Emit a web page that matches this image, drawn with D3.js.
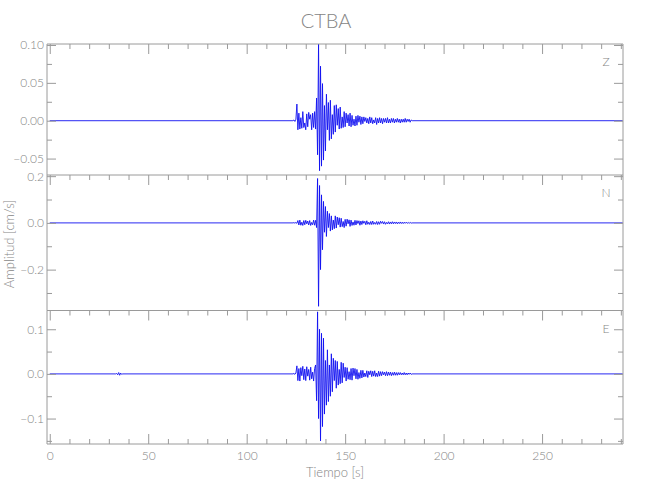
<!DOCTYPE html>
<html>
<head>
<meta charset="utf-8">
<script src="https://cdn.jsdelivr.net/npm/d3@7"></script>
<style>
  html, body { margin: 0; padding: 0; background: #ffffff; }
  svg text { font-family: "Lato", "Liberation Sans Narrow", "DejaVu Sans Condensed", sans-serif; font-weight: 300; fill: #858585; }
</style>
</head>
<body>
<svg id="chart" width="650" height="500"></svg>
<script>
// ---------------- data ----------------
const stationName = "CTBA";
const componentNames = ["Z", "N", "E"];
const xLabelText = "Tiempo [s]";
const yLabelText = "Amplitud [cm/s]";

const timeRange = [-1.4, 291.1];
const recordEnd = 291;
const xMajorTicks = [0, 50, 100, 150, 200, 250];
const xMinorTicks = [10, 20, 30, 40, 60, 70, 80, 90, 110, 120, 130, 140, 160, 170, 180, 190, 210, 220, 230, 240, 260, 270, 280, 290];

const zRange = [-0.0717, 0.1013];
const zMajorTicks = [-0.05, 0.00, 0.05, 0.10];
const zMinorTicks = [-0.025, 0.025, 0.075];
const nRange = [-0.375, 0.205];
const nMajorTicks = [-0.2, 0.0, 0.2];
const nMinorTicks = [-0.3, -0.1, 0.1];
const eRange = [-0.157, 0.142];
const eMajorTicks = [-0.1, 0.0, 0.1];
const eMinorTicks = [-0.15, -0.05, 0.05];

// event segment: samples every 0.5 s from 124 s (cm/s)
const eventStart = 124;
const sampleStep = 0.5;

const zValues = [
  0.001, -0.001, 0.002, 0.022, -0.012, 0.010, -0.011, 0.004, -0.010, 0.012,
  -0.009, -0.003, -0.012, 0.009, -0.008, 0.011, 0.002, 0.008, -0.012, 0.010,
  -0.009, 0.012, -0.011, 0.030, -0.045, 0.102, -0.066, 0.072, -0.060, 0.049,
  -0.052, 0.020, -0.040, 0.035, -0.012, 0.024, -0.026, 0.027, -0.024, 0.008,
  -0.018, 0.020, -0.015, 0.021, -0.006, 0.016, -0.011, 0.018, -0.010, 0.005,
  -0.009, 0.012, -0.008, 0.010, -0.003, 0.008, -0.007, 0.010, -0.008, 0.007,
  -0.006, 0.002, -0.007, 0.006, -0.006, 0.007, -0.002, 0.006, -0.005, 0.005,
  -0.004, 0.005, -0.001, 0.004, -0.003, 0.003, -0.004, 0.005, -0.003, 0.004,
  -0.004, 0.001, -0.003, 0.004, -0.005, 0.003, -0.003, 0.004, -0.003, 0.003,
  -0.004, 0.003, -0.002, 0.003, -0.003, 0.004, -0.003, 0.002, -0.003, 0.003,
  -0.002, 0.003, -0.003, 0.002, -0.002, 0.003, -0.002, 0.002, -0.003, 0.002,
  -0.002, 0.002, -0.002, 0.003, -0.002, 0.002, -0.001, 0.002, -0.002, 0.001
];

const nValues = [
  0.001, -0.001, 0.002, -0.002, 0.010, -0.009, 0.012, -0.010, 0.003, -0.011,
  0.010, -0.008, 0.011, -0.004, 0.008, -0.009, 0.010, -0.011, 0.002, -0.008,
  0.012, -0.010, 0.011, -0.020, 0.190, -0.357, 0.160, -0.200, 0.120, -0.115,
  0.092, -0.040, 0.070, -0.058, 0.050, -0.020, 0.040, -0.035, 0.030, -0.030,
  0.012, -0.025, 0.030, -0.022, 0.025, -0.008, 0.022, -0.018, 0.020, -0.016,
  0.006, -0.020, 0.015, -0.014, 0.016, -0.004, 0.013, -0.015, 0.012, -0.011,
  0.004, -0.010, 0.011, -0.009, 0.010, -0.003, 0.009, -0.010, 0.008, -0.007,
  0.009, -0.002, 0.007, -0.008, 0.009, -0.006, 0.003, -0.007, 0.006, -0.007,
  0.008, -0.006, 0.002, -0.006, 0.006, -0.007, 0.005, -0.006, 0.007, -0.002,
  0.006, -0.005, 0.005, -0.006, 0.002, -0.004, 0.005, -0.005, 0.004, -0.004,
  0.005, -0.004, 0.004, -0.003, 0.004, -0.004, 0.003, -0.003, 0.004, -0.003,
  0.003, -0.003, 0.003, -0.002, 0.003, -0.002, 0.002, -0.002, 0.002, -0.001
];

const eValues = [
  0.001, -0.001, 0.002, 0.018, -0.015, 0.012, -0.016, 0.014, -0.004, 0.017,
  -0.013, 0.011, -0.015, 0.016, -0.005, 0.010, -0.014, 0.015, -0.011, 0.004,
  -0.016, 0.012, 0.020, -0.060, 0.139, -0.100, 0.100, -0.150, 0.091, -0.118,
  0.080, -0.090, 0.030, -0.070, 0.054, -0.062, 0.020, -0.050, 0.045, -0.040,
  0.035, -0.015, 0.030, -0.032, 0.028, -0.025, 0.010, -0.022, 0.026, -0.020,
  0.024, -0.008, 0.015, -0.016, 0.014, -0.012, 0.005, -0.013, 0.012, -0.014,
  0.013, -0.004, 0.012, -0.011, 0.010, -0.012, 0.003, -0.010, 0.008, -0.009,
  0.008, -0.007, 0.002, -0.006, 0.007, -0.008, 0.006, -0.002, 0.007, -0.006,
  0.006, -0.005, 0.007, -0.006, 0.002, -0.006, 0.006, -0.005, 0.005, -0.004,
  0.005, -0.002, 0.004, -0.004, 0.005, -0.004, 0.004, -0.003, 0.004, -0.004,
  0.003, -0.003, 0.004, -0.003, 0.003, -0.003, 0.003, -0.002, 0.003, -0.002,
  0.002, -0.002, 0.003, -0.002, 0.002, -0.002, 0.002, -0.001, 0.002, -0.001
];

// small early arrival on E near 35 s
const eBlipStart = 34;
const eBlipValues = [0.001, -0.002, 0.003, -0.003, 0.002, -0.001];

// ---------------- layout ----------------
const svg = d3.select("#chart");
const left = 47, right = 623;
const panelEdges = [44, 175, 310.5, 444];
const axisColor = "#9a9a9a";
const lineColor = "#1010f0";
const textFont = '"Lato", "Liberation Sans Narrow", "DejaVu Sans Condensed", sans-serif';

const x = d3.scaleLinear().domain(timeRange).range([left, right]);

function buildSeries(segments) {
  const pts = [[0, 0]];
  segments.forEach(seg => {
    pts.push([seg.start - sampleStep, 0]);
    seg.values.forEach((v, i) => pts.push([seg.start + i * seg.step, v]));
    pts.push([seg.start + seg.values.length * seg.step, 0]);
  });
  pts.push([recordEnd, 0]);
  return pts;
}

const panels = [
  { name: componentNames[0], range: zRange, major: zMajorTicks, minor: zMinorTicks, fmt: d3.format(".2f"),
    series: buildSeries([{ start: eventStart, step: sampleStep, values: zValues }]) },
  { name: componentNames[1], range: nRange, major: nMajorTicks, minor: nMinorTicks, fmt: d3.format(".1f"),
    series: buildSeries([{ start: eventStart, step: sampleStep, values: nValues }]) },
  { name: componentNames[2], range: eRange, major: eMajorTicks, minor: eMinorTicks, fmt: d3.format(".1f"),
    series: buildSeries([{ start: eBlipStart, step: sampleStep, values: eBlipValues },
                         { start: eventStart, step: sampleStep, values: eValues }]) }
];

function styleAxis(g) {
  g.select(".domain").remove();
  g.selectAll(".tick line").attr("stroke", axisColor).attr("stroke-width", 1);
  g.selectAll(".tick text").attr("fill", "#858585").style("font-size", "12px")
    .style("font-weight", "300").style("font-family", textFont);
}

panels.forEach((p, i) => {
  const top = panelEdges[i], bottom = panelEdges[i + 1];
  const y = d3.scaleLinear().domain(p.range).range([bottom, top]);
  const g = svg.append("g");

  // waveform
  const clipId = "clip" + i;
  svg.append("clipPath").attr("id", clipId).append("rect")
    .attr("x", left).attr("y", top).attr("width", right - left).attr("height", bottom - top);
  g.append("path")
    .datum(p.series)
    .attr("clip-path", `url(#${clipId})`)
    .attr("fill", "none")
    .attr("stroke", lineColor)
    .attr("stroke-width", 0.9)
    .attr("stroke-linejoin", "round")
    .attr("d", d3.line().x(d => x(d[0])).y(d => y(d[1])));

  // frame lines
  g.append("line").attr("x1", left).attr("x2", left).attr("y1", top).attr("y2", bottom).attr("stroke", axisColor);
  g.append("line").attr("x1", right).attr("x2", right).attr("y1", top).attr("y2", bottom).attr("stroke", axisColor);
  g.append("line").attr("x1", left).attr("x2", right).attr("y1", top).attr("y2", top).attr("stroke", axisColor);

  // y axes (left labelled, right mirrored)
  g.append("g").attr("transform", `translate(${left},0)`)
    .call(d3.axisLeft(y).tickValues(p.major).tickSize(-9).tickSizeOuter(0).tickPadding(3).tickFormat(p.fmt))
    .call(styleAxis);
  g.append("g").attr("transform", `translate(${left},0)`)
    .call(d3.axisLeft(y).tickValues(p.minor).tickSize(-5).tickSizeOuter(0).tickFormat(""))
    .call(styleAxis);
  g.append("g").attr("transform", `translate(${right},0)`)
    .call(d3.axisRight(y).tickValues(p.major).tickSize(-9).tickSizeOuter(0).tickFormat(""))
    .call(styleAxis);
  g.append("g").attr("transform", `translate(${right},0)`)
    .call(d3.axisRight(y).tickValues(p.minor).tickSize(-5).tickSizeOuter(0).tickFormat(""))
    .call(styleAxis);

  // top x ticks pointing down
  g.append("g").attr("transform", `translate(0,${top})`)
    .call(d3.axisTop(x).tickValues(xMajorTicks).tickSize(-10).tickSizeOuter(0).tickFormat(""))
    .call(styleAxis);
  g.append("g").attr("transform", `translate(0,${top})`)
    .call(d3.axisTop(x).tickValues(xMinorTicks).tickSize(-5).tickSizeOuter(0).tickFormat(""))
    .call(styleAxis);

  // component label
  g.append("text").attr("x", 606).attr("y", top + 22)
    .attr("text-anchor", "middle").style("font-size", "12px").text(p.name);
});

// bottom axis
const bottomY = panelEdges[3];
svg.append("line").attr("x1", left).attr("x2", right).attr("y1", bottomY).attr("y2", bottomY).attr("stroke", axisColor);
svg.append("g").attr("transform", `translate(0,${bottomY})`)
  .call(d3.axisBottom(x).tickValues(xMajorTicks).tickSize(-10).tickSizeOuter(0).tickPadding(5).tickFormat(d3.format("d")))
  .call(styleAxis)
  .call(g => g.selectAll(".tick text").attr("dy", "0.9em"));
svg.append("g").attr("transform", `translate(0,${bottomY})`)
  .call(d3.axisBottom(x).tickValues(xMinorTicks).tickSize(-5).tickSizeOuter(0).tickFormat(""))
  .call(styleAxis);

// titles
svg.append("text").attr("x", 326).attr("y", 28).attr("text-anchor", "middle")
  .style("font-size", "20px").text(stationName);
svg.append("text").attr("x", (left + right) / 2).attr("y", 477).attr("text-anchor", "middle")
  .style("font-size", "13px").text(xLabelText);
svg.append("text").attr("transform", `translate(14,${(panelEdges[0] + panelEdges[3]) / 2}) rotate(-90)`)
  .attr("text-anchor", "middle").style("font-size", "13px").text(yLabelText);
</script>
</body>
</html>
